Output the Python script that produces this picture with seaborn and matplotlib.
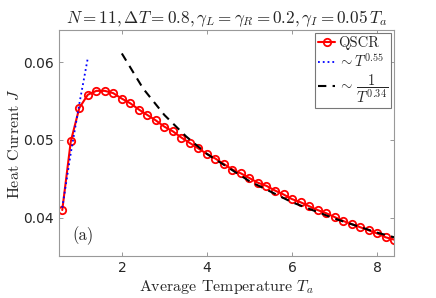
import matplotlib
matplotlib.use("Agg")
import matplotlib.pyplot as plt
import seaborn as sns
import pandas as pd

# Datos
temp = [0.6, 0.8, 1.0, 1.2, 1.4, 1.6, 1.8, 2.0, 2.2, 2.4, 2.6, 2.8, 3.0, 3.2,
        3.4, 3.6, 3.8, 4.0, 4.2, 4.4, 4.6, 4.8, 5.0, 5.2, 5.4, 5.6, 5.8, 6.0,
        6.2, 6.4, 6.6, 6.8, 7.0, 7.2, 7.4, 7.6, 7.8, 8.0, 8.2, 8.4]
corriente = [0.0410, 0.0498, 0.0541, 0.0558, 0.0563, 0.0563, 0.0560, 0.0553,
             0.0547, 0.0539, 0.0532, 0.0525, 0.0517, 0.0511, 0.0503, 0.0496,
             0.0489, 0.0482, 0.0476, 0.0469, 0.0462, 0.0457, 0.0451, 0.0445,
             0.0441, 0.0435, 0.0430, 0.0424, 0.0420, 0.0415, 0.0410, 0.0406,
             0.0401, 0.0396, 0.0392, 0.0388, 0.0384, 0.0380, 0.0375, 0.0372]

# ajuste a bajas temperaturas (~T^0.55)
t_bajo = [0.6, 0.8, 1.0, 1.2]
j_bajo = [0.0413, 0.0483, 0.0546, 0.0605]

# ajuste a altas temperaturas (~1/T^0.34)
t_alto = [2.0, 2.5, 3.0, 3.5, 4.0, 5.0, 6.0, 7.0, 8.0, 8.4]
j_alto = [0.0611, 0.0566, 0.0532, 0.0505, 0.0482, 0.0447, 0.0420, 0.0399,
          0.0381, 0.0375]

df = pd.DataFrame({"T": temp, "J": corriente})

sns.set_style("white")
plt.rcParams["font.family"] = ["cmr10", "DejaVu Serif"]
plt.rcParams["mathtext.fontset"] = "cm"
plt.rcParams["axes.formatter.use_mathtext"] = True

fig = plt.figure(figsize=(4.36, 2.98), dpi=100)
ax = fig.add_axes([0.135, 0.141, 0.769, 0.758])

sns.lineplot(data=df, x="T", y="J", ax=ax, color="red", lw=1.5,
             marker="o", markersize=5.3, markerfacecolor="none",
             markeredgecolor="red", markeredgewidth=1.3, label="QSCR")
sns.lineplot(x=t_bajo, y=j_bajo, ax=ax, color="blue", lw=1.3,
             linestyle=":", label=r"$\sim T^{0.55}$")
sns.lineplot(x=t_alto, y=j_alto, ax=ax, color="black", lw=1.5,
             linestyle=(0, (4, 3)), label=r"$\sim\,\dfrac{1}{T^{0.34}}$")

ax.set_xlim(0.52, 8.4)
ax.set_ylim(0.0351, 0.0641)
ax.set_xticks([2, 4, 6, 8])
ax.set_yticks([0.04, 0.05, 0.06])
ax.set_yticklabels(["0.04", "0.05", "0.06"])

for lab in ax.get_xticklabels() + ax.get_yticklabels():
    lab.set_fontfamily("DejaVu Sans")
    lab.set_fontsize(10)
    lab.set_color("#262626")

ax.tick_params(direction="in", length=3, width=0.6, color="#888888",
               top=True, right=True, bottom=True, left=True)
for s in ax.spines.values():
    s.set_color("#999999")
    s.set_linewidth(0.8)

ax.set_xlabel(r"Average Temperature $T_a$", fontsize=11.5, labelpad=2)
ax.set_ylabel(r"Heat Current $J$", fontsize=11.5, labelpad=1)
ax.set_title(r"$N=11,\Delta T=0.8,\gamma_L=\gamma_R=0.2,\gamma_I=0.05\,T_a$",
             fontsize=12.3, pad=5)

ax.text(0.04, 0.07, "(a)", transform=ax.transAxes, fontsize=12)

leg = ax.legend(loc="upper right", fontsize=10.5, handlelength=1.2,
                handletextpad=0.2, borderpad=0.2, labelspacing=0.15,
                borderaxespad=0.2, fancybox=False, framealpha=1)
leg.get_frame().set_edgecolor("#777777")
leg.get_frame().set_linewidth(0.8)

fig.savefig("out.png", dpi=100)
